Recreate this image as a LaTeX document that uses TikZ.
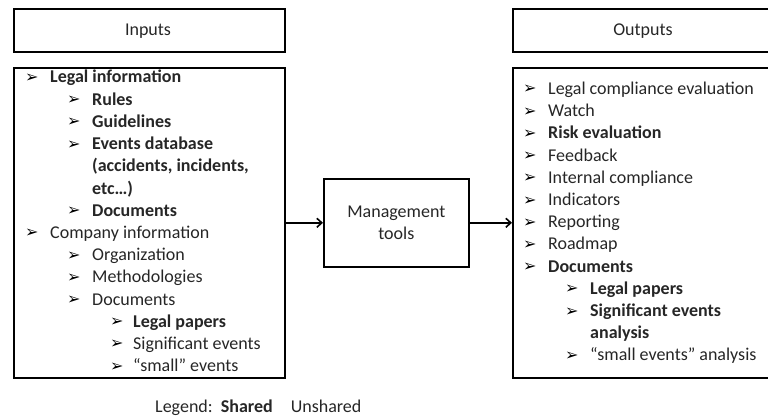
\documentclass[tikz,border=0pt]{standalone}
\usepackage{fontspec}
\setmainfont{Carlito}
\newfontfamily\bulletfont{DejaVu Sans}
\usetikzlibrary{arrows.meta}
\definecolor{txtc}{HTML}{262626}
\begin{document}
\begin{tikzpicture}[x=1pt,y=-1pt,
  frame/.style={draw=black, line width=1.6pt, inner sep=0pt, anchor=north west},
  linetext/.style={font=\fontsize{18}{22.2}\selectfont, text=txtc, inner sep=0pt, anchor=base west},
  bulletmark/.style={font=\bulletfont\fontsize{16}{16}\selectfont, inner sep=0pt, anchor=base west},
  flow/.style={-{Straight Barb[length=5pt,width=9pt,line width=1.6pt]}, line width=1.6pt}
  ]
\useasboundingbox (0,0) rectangle (768,417);
\clip (0,0) rectangle (768,417);

% boxes
\node[frame, minimum width=271pt, minimum height=43pt] (inhead) at (13,8) {};
\node[linetext, anchor=center] (inheadtext) at (148,31) {Inputs};
\node[frame, minimum width=271pt, minimum height=310pt] (inlist) at (13,67) {};
\node[frame, minimum width=145pt, minimum height=88pt] (mgmt) at (323,178) {};
\node[linetext, anchor=center, align=center] (mgmttext) at (mgmt.center) {Management\\tools};
\node[frame, minimum width=263pt, minimum height=43pt] (outhead) at (512,8) {};
\node[linetext, anchor=center] (outheadtext) at (643,31) {Outputs};
\node[frame, minimum width=263pt, minimum height=310pt] (outlist) at (512,67) {};

% connectors
\draw[flow] (inlist.east) -- (mgmt.west);
\draw[flow] (mgmt.east) -- (outlist.east -| outlist.west);

% input items: bullet x / text x / show bullet / text
\foreach \bx/\tx/\sb/\t [count=\i from 0] in {
  25/50/1/{\textbf{Legal information}},
  67/92/1/{\textbf{Rules}},
  67/92/1/{\textbf{Guidelines}},
  67/92/1/{\textbf{Events database}},
  67/92/0/{\textbf{(accidents, incidents,}},
  67/92/0/{\textbf{etc…)}},
  67/92/1/{\textbf{Documents}},
  25/50/1/{Company information},
  67/92/1/{Organization},
  67/92/1/{Methodologies},
  67/92/1/{Documents},
  110/133/1/{\textbf{Legal papers}},
  110/133/1/{Significant events},
  110/133/1/{“small” events}} {
  \pgfmathsetmacro{\yy}{83+22.2*\i}
  \node[linetext] (in\i) at (\tx,\yy) {\t};
  \ifnum\sb=1 \node[bulletmark] (inb\i) at (\bx,\yy-0.5) {➢}; \fi
}

% output items
\foreach \bx/\tx/\sb/\t [count=\i from 0] in {
  523/548/1/{Legal compliance evaluation},
  523/548/1/{Watch},
  523/548/1/{\textbf{Risk evaluation}},
  523/548/1/{Feedback},
  523/548/1/{Internal compliance},
  523/548/1/{Indicators},
  523/548/1/{Reporting},
  523/548/1/{Roadmap},
  523/548/1/{\textbf{Documents}},
  565/590/1/{\textbf{Legal papers}},
  565/590/1/{\textbf{Significant events}},
  565/590/0/{\textbf{analysis}},
  565/590/1/{“small events” analysis}} {
  \pgfmathsetmacro{\yy}{94.5+22.2*\i}
  \node[linetext] (out\i) at (\tx,\yy) {\t};
  \ifnum\sb=1 \node[bulletmark] (outb\i) at (\bx,\yy-0.5) {➢}; \fi
}

% legend
\node[linetext] (legend) at (155,412) {Legend:\hspace{0.45em}\textbf{Shared}\hspace{1em}Unshared};
\end{tikzpicture}
\end{document}
